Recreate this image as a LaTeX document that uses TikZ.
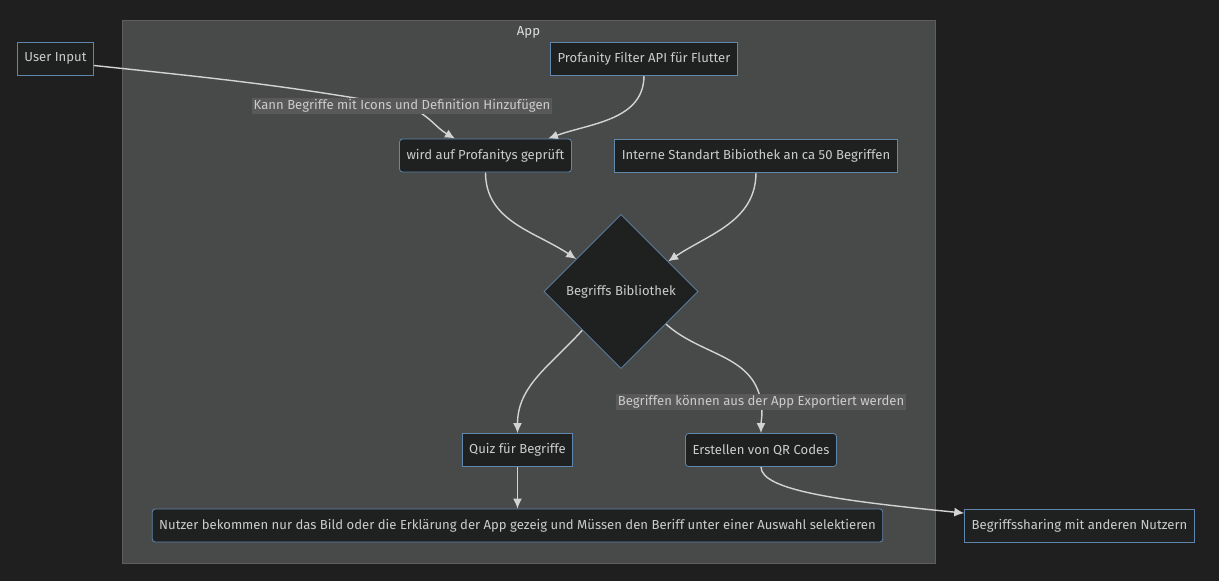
\documentclass[tikz,border=0pt]{standalone}
\usepackage{fontspec}
\setmainfont{Fira Sans}
\usetikzlibrary{shapes.geometric,arrows.meta,positioning,fit,calc}
\definecolor{canvasbg}{HTML}{1F1F1F}
\definecolor{appgrey}{HTML}{484949}
\definecolor{appline}{HTML}{5E5E5E}
\definecolor{nodefill}{HTML}{1F2020}
\definecolor{nodeblue}{HTML}{5F87AD}
\definecolor{txtgrey}{HTML}{CCCCCC}
\definecolor{linegrey}{HTML}{D3D3D3}
\definecolor{labelgrey}{HTML}{595959}
\pgfdeclarelayer{background}
\pgfdeclarelayer{edges}
\pgfsetlayers{background,edges,main}

\begin{document}
\begin{tikzpicture}[
            x=1pt,y=1pt,
            every node/.style={on grid,text=txtgrey,font=\fontsize{13.1}{15}\selectfont},
            squarebox/.style={draw=nodeblue,fill=nodefill,minimum height=33pt,inner xsep=7pt,line width=0.8pt},
            roundbox/.style={squarebox,rounded corners=3pt},
            libbox/.style={diamond,draw=nodeblue,fill=nodefill,minimum width=154pt,minimum height=154pt,inner sep=0pt,line width=0.6pt},
            edgelabel/.style={fill=labelgrey,inner sep=1.5pt},
            appbox/.style={draw=appline,fill=appgrey,inner sep=0pt,line width=0.8pt},
            edge/.style={draw=linegrey,line width=1.4pt,->},
            >={Latex[length=10pt,width=9pt]}
        ]

        % Outside %
        \node[squarebox] (userin) at (55.5,-58.5) {User Input};

        % App %
        \node[squarebox, right=588.5pt of userin] (filter) {Profanity Filter API für Flutter};
        \node[roundbox, below left=97pt and 158.5pt of filter] (check) {wird auf Profanitys geprüft};
        \node[squarebox, right=270.5pt of check] (intern) {Interne Standart Bibiothek an ca 50 Begriffen};
        \node[libbox, below right=136pt and 135.5pt of check] (lib) {Begriffs Bibliothek};
        \node[squarebox, below left=158.5pt and 103.5pt of lib] (quiz) {Quiz für Begriffe};
        \node[roundbox, right=243.5pt of quiz] (qr) {Erstellen von QR Codes};
        \node[roundbox, below=75.5pt of quiz] (nutzer) {Nutzer bekommen nur das Bild oder die Erklärung der App gezeig und Müssen den Beriff unter einer Auswahl selektieren};
        \node[squarebox, below right=76pt and 318.5pt of qr] (share) {Begriffssharing mit anderen Nutzern};

        % Labels %
        \node[edgelabel, below left=47.5pt and 242pt of filter] (kann) {Kann Begriffe mit Icons und Definition Hinzufügen};
        \node[edgelabel, above=48.5pt of qr] (export) {Begriffen können aus der App Exportiert werden};

        % Draw arrows %
        \begin{pgfonlayer}{edges}
            \draw[edge] ([yshift=-7pt]userin.east) to[out=-6,in=170] (kann.center) to[out=-10,in=150] ([xshift=-30.5pt]check.north);
            \draw[edge] (filter.south) to[out=-90,in=20] ([xshift=62.5pt]check.north);
            \draw[edge] (check.south) to[out=-90,in=146] ($(lib.north)!0.58!(lib.west)$);
            \draw[edge] (intern.south) to[out=-90,in=34] ($(lib.north)!0.61!(lib.east)$);
            \draw[edge] ($(lib.west)!0.5!(lib.south)$) to[out=-132,in=90] (quiz.north);
            \draw[edge] ($(lib.east)!0.42!(lib.south)$) to[out=-42,in=100] (export.center) to[out=-80,in=90] (qr.north);
            \draw[edge] (quiz.south) -- (quiz.south |- nutzer.north);
            \draw[edge] (qr.south) .. controls +(0,-24) and +(-120,12) .. ([yshift=-4pt]share.north west);
        \end{pgfonlayer}

        % Draw subgraph %
        \begin{pgfonlayer}{background}
            \fill[canvasbg] (0,0) rectangle (1219,-581);
            \coordinate (appnw) at (122,-20);
            \coordinate (appse) at (935,-563);
            \node[appbox, fit=(appnw) (appse)] (app) {};
        \end{pgfonlayer}
        \node[text=white!88!black] (apptitle) at ([yshift=-13pt]app.north) {App};

        \useasboundingbox (0,0) rectangle (1219,-581);
        \end{tikzpicture}
\end{document}
